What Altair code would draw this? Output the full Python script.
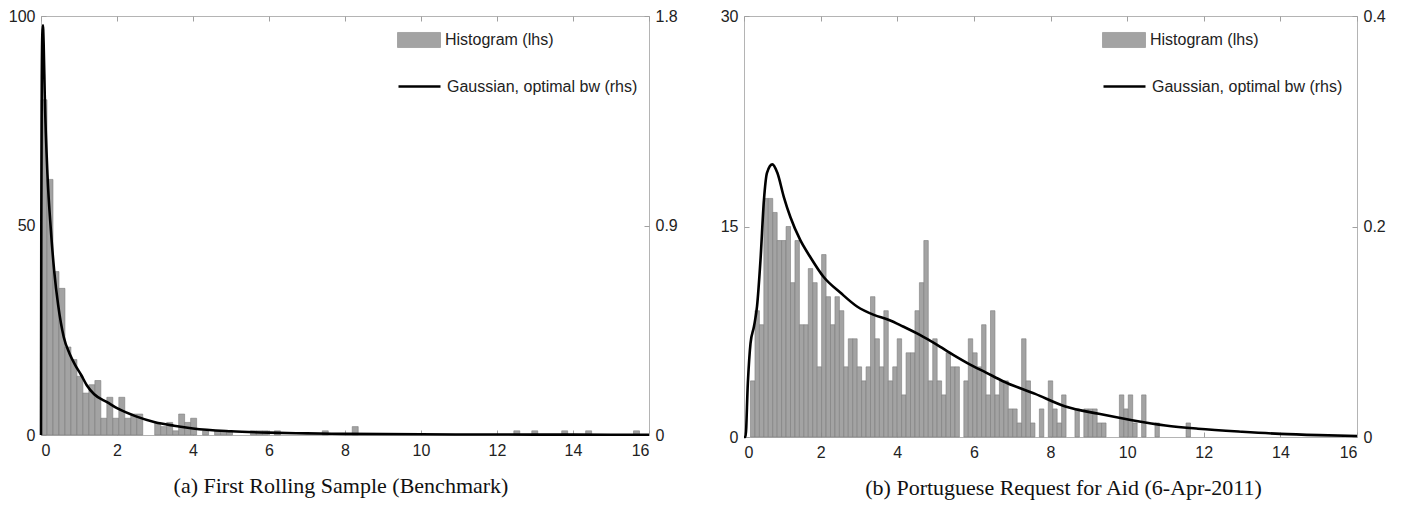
import altair as alt
import pandas as pd

X_TICKS = [0, 2, 4, 6, 8, 10, 12, 14, 16]

# ---------------- Panel (a) ----------------
left_counts = [80, 61, 39, 35, 21, 18, 14, 10, 12, 13,
               4, 9, 4, 9, 4, 5, 5, 0, 0, 3,
               2, 3, 1, 5, 3, 4, 0, 1, 0, 1,
               1, 1, 0, 0, 0, 1, 1, 1, 0, 1,
               0, 0, 0, 0, 0, 0, 0, 1, 0, 0,
               0, 0, 2, 0, 0, 0, 0, 0, 0, 0,
               0, 0, 0, 0, 0, 0, 0, 0, 0, 0,
               0, 0, 0, 0, 0, 0, 0, 0, 0, 1,
               0, 0, 1, 0, 0, 0, 0, 1, 0, 0,
               0, 1, 0, 0, 0, 0, 0, 0, 0, 1]
left_bin_start = 0.0
left_bin_width = 0.1575
left_kde_x = [0, 0.008, 0.02, 0.035, 0.05, 0.07, 0.1, 0.17, 0.26, 0.35, 0.45, 0.6,
              0.75, 0.9, 1.05, 1.2, 1.4, 1.75, 2.0, 2.5, 3.0, 3.5, 4.0, 5.0, 6.0,
              7.0, 8.0, 10.0, 12.0, 14.0, 16.0]
left_kde_y = [0, 0.9, 1.5, 1.72, 1.76, 1.68, 1.45, 1.12, 0.88, 0.70, 0.56, 0.42,
              0.35, 0.30, 0.26, 0.215, 0.175, 0.14, 0.115, 0.08, 0.055, 0.04, 0.028,
              0.016, 0.010, 0.007, 0.005, 0.003, 0.002, 0.0015, 0.001]
left_lhs_ticks = [0, 50, 100]
left_rhs_ticks = [0, 0.9, 1.8]

# ---------------- Panel (b) ----------------
right_counts = [4, 9, 8, 17, 17, 16, 14, 14, 15, 11,
                14, 8, 8, 12, 11, 5, 13, 10, 8, 10,
                9, 5, 7, 7, 5, 4, 5, 10, 7, 5,
                9, 4, 5, 7, 3, 6, 6, 9, 11, 14,
                4, 7, 4, 3, 6, 5, 5, 0, 4, 7,
                6, 5, 8, 3, 9, 3, 4, 4, 2, 2,
                1, 7, 4, 1, 0, 2, 0, 4, 2, 1,
                3, 0, 0, 2, 0, 2, 2, 2, 1, 1,
                0, 0, 0, 3, 2, 3, 1, 0, 3, 0,
                0, 1, 0, 0, 0, 0, 0, 0, 1]
right_bin_start = 0.17
right_bin_width = 0.116
right_kde_x = [0, 0.04, 0.1, 0.17, 0.26, 0.34, 0.43, 0.52, 0.6, 0.74, 0.87, 1.04,
               1.21, 1.47, 1.73, 2.08, 2.52, 2.95, 3.39, 3.8, 4.15, 4.59, 5.02,
               5.46, 5.89, 6.33, 6.76, 7.6, 8.39, 9.26, 10.13, 11.0, 11.85, 13.0,
               14.0, 15.0, 16.0]
right_kde_y = [0, 0.0, 0.051, 0.089, 0.105, 0.124, 0.168, 0.225, 0.251, 0.259, 0.251,
               0.228, 0.209, 0.187, 0.171, 0.152, 0.137, 0.124, 0.116, 0.111, 0.105,
               0.097, 0.088, 0.078, 0.069, 0.061, 0.053, 0.041, 0.029, 0.022, 0.016,
               0.011, 0.0079, 0.005, 0.003, 0.0018, 0.001]
right_lhs_ticks = [0, 15, 30]
right_rhs_ticks = [0, 0.2, 0.4]

HIST_LABEL = "Histogram (lhs)"
KDE_LABEL = "Gaussian, optimal bw (rhs)"
RECT_PATH = "M-1,-0.35H1V0.35H-1Z"


def panel(counts, start, width, kx, ky, lmax, rmax, lticks, rticks,
          caption, w, h, legx, cap_dx):
    hist = pd.DataFrame({"bin": list(range(len(counts))), "count": counts})
    hist["series"] = HIST_LABEL
    hist = hist[hist["count"] > 0]
    kde = pd.DataFrame({"x": kx, "d": ky})
    kde["series"] = KDE_LABEL
    xscale = alt.Scale(domain=[0, 16], nice=False, zero=False)

    bars = alt.Chart(hist).transform_calculate(
        x0=f"{start} + datum.bin * {width}",
        x1=f"{start} + (datum.bin + 1) * {width}",
        base="0",
    ).mark_rect(stroke="#7c7c7c", strokeWidth=0.6).encode(
        x=alt.X("x0:Q", scale=xscale,
                axis=alt.Axis(values=X_TICKS, offset=-5, tickSize=5, domain=False,
                              labelPadding=7, title=None, grid=False, orient="bottom")),
        x2="x1:Q",
        y=alt.Y("count:Q", scale=alt.Scale(domain=[0, lmax], nice=False),
                axis=alt.Axis(values=lticks, offset=-5, tickSize=5, domain=False,
                              labelPadding=6, title=None, grid=False, orient="left")),
        y2="base:Q",
        fill=alt.Fill("series:N", scale=alt.Scale(range=["#a3a3a3"]),
                      legend=alt.Legend(orient="none", legendX=legx, legendY=2,
                                        title=None, symbolType=RECT_PATH,
                                        symbolSize=1849, labelOffset=4, padding=0,
                                        labelLimit=0,
                                        symbolStrokeColor="#8a8a8a",
                                        symbolStrokeWidth=0.6)),
    )

    line = alt.Chart(kde).mark_line(strokeWidth=2.6, interpolate="monotone",
                                    strokeJoin="round").encode(
        x=alt.X("x:Q", scale=xscale,
                axis=alt.Axis(values=X_TICKS, offset=-5, tickSize=5, domain=False,
                              labels=False, title=None, grid=False, orient="top")),
        y=alt.Y("d:Q", scale=alt.Scale(domain=[0, rmax], nice=False),
                axis=alt.Axis(values=rticks, format="~g", offset=-5, tickSize=5,
                              domain=False, labelPadding=6, title=None, grid=False,
                              orient="right")),
        stroke=alt.Stroke("series:N", scale=alt.Scale(range=["#000000"]),
                          legend=alt.Legend(orient="none", legendX=legx, legendY=48,
                                            title=None, symbolType="stroke",
                                            symbolSize=1764, symbolStrokeWidth=2.6,
                                            labelOffset=5, padding=0, labelLimit=0)),
    )

    return alt.layer(bars, line).resolve_scale(
        y="independent"
    ).resolve_axis(
        x="independent", y="independent"
    ).properties(
        width=w, height=h,
        title=alt.TitleParams(caption, orient="bottom", font="Liberation Serif",
                              fontSize=22, fontWeight="normal", color="#111111",
                              offset=18, dx=cap_dx),
    )


left = panel(left_counts, left_bin_start, left_bin_width, left_kde_x, left_kde_y,
             100, 1.8, left_lhs_ticks, left_rhs_ticks,
             "(a) First Rolling Sample (Benchmark)", 608, 419, 356, -4)
right = panel(right_counts, right_bin_start, right_bin_width, right_kde_x, right_kde_y,
              30, 0.4, right_lhs_ticks, right_rhs_ticks,
              "(b) Portuguese Request for Aid (6-Apr-2011)", 613, 421, 358, 13)

chart = alt.hconcat(left, right, spacing=41).resolve_scale(
    fill="independent", stroke="independent", x="independent", y="independent"
).resolve_legend(
    fill="independent", stroke="independent"
).properties(
    padding={"left": 7, "top": 7, "right": 5, "bottom": 2},
    background="white",
).configure_view(
    stroke="#b4b4b4", strokeWidth=1
).configure_axis(
    labelFont="Liberation Sans", labelFontSize=16, labelColor="#222222",
    tickColor="#a0a0a0", tickWidth=1
).configure_legend(
    labelFont="Liberation Sans", labelFontSize=16, labelColor="#222222"
)

chart.save("out.html", embed_options={"renderer": "svg", "actions": False})
